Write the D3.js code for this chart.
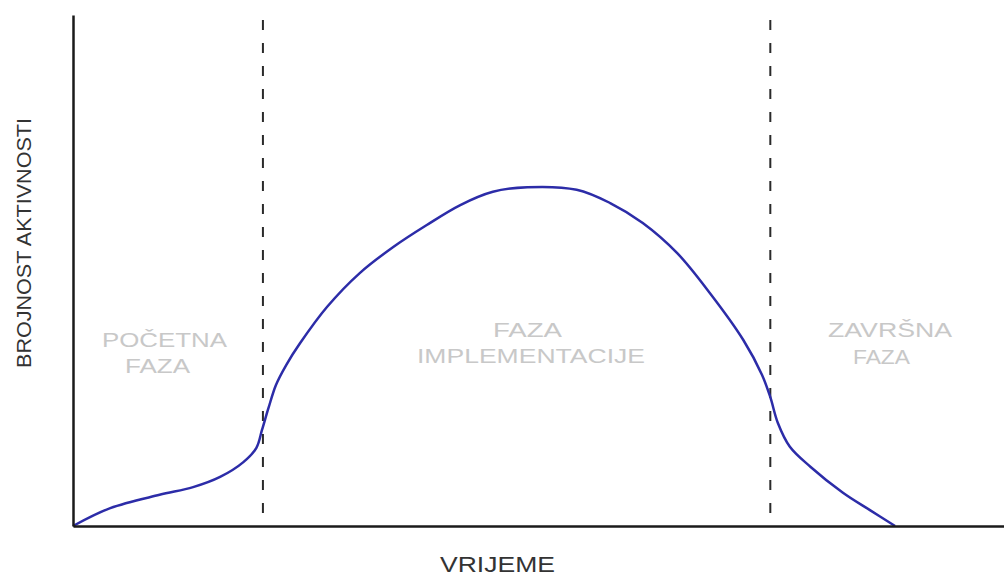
<!DOCTYPE html>
<html>
<head>
<meta charset="utf-8">
<script src="https://cdn.jsdelivr.net/npm/d3@7"></script>
<style>
  body { margin: 0; background: #fff; }
  svg { display: block; font-family: "Liberation Sans", Arial, sans-serif; }
</style>
</head>
<body>
<div class="chart"></div>
<script>
// vrijeme (0-100) i brojnost aktivnosti (0-100), očitano sa slike
const time = [0, 4, 9.3, 12.9, 15.8, 18.3, 19.7, 20.3, 21, 21.8, 22.9, 24.4, 27.3, 30.8, 34.4, 38, 41.6, 45.1, 48.8,
  54.1, 57.7, 61.2, 64.9, 68.4, 72, 74, 74.9, 75.7, 77, 79.2, 82.7, 85.6, 88.3];
const activity = [0, 3.5, 6.1, 7.6, 9.6, 12.5, 15.3, 18.8, 23.1, 27.6, 31.5, 35.8, 42.9, 49.5, 54.6, 58.9, 62.8, 65.4, 66.3,
  65.8, 63.2, 59.3, 53.4, 45.6, 36.4, 29.6, 25.2, 20.2, 15.5, 11.6, 6.5, 3.1, 0];
const phaseBounds = [20.4, 74.9];
const phaseNames = [["POČETNA", "FAZA"], ["FAZA", "IMPLEMENTACIJE"], ["ZAVRŠNA", "FAZA"]];
const xTitle = "VRIJEME";
const yTitle = "BROJNOST AKTIVNOSTI";

const W = 1004, H = 577;
const margin = {top: 15, right: 0, bottom: 51, left: 73};

const svg = d3.select('.chart').append('svg')
  .attr('width', W)
  .attr('height', H);

const x = d3.scaleLinear().domain([0, 100]).range([margin.left, W - margin.right]);
const y = d3.scaleLinear().domain([0, 100]).range([H - margin.bottom, margin.top]);

// granice faza
svg.selectAll('.bound')
  .data(phaseBounds)
  .enter().append('line')
    .attr('class', 'bound')
    .attr('x1', d => x(d)).attr('x2', d => x(d))
    .attr('y1', y(99)).attr('y2', y(0))
    .attr('stroke', '#2a2a2a')
    .attr('stroke-width', 2)
    .attr('stroke-dasharray', '10,13');

// nazivi faza
const labelPos = [
  {x: 102, w: 125, y: 347, x2: 125, w2: 65, y2: 373},
  {x: 493, w: 69, y: 337, x2: 417, w2: 228, y2: 363},
  {x: 828, w: 124, y: 337, x2: 853, w2: 57, y2: 364}
];
phaseNames.forEach((p, i) => {
  const lp = labelPos[i];
  [[p[0], lp.x, lp.w, lp.y], [p[1], lp.x2, lp.w2, lp.y2]].forEach(t => {
    svg.append('text')
      .attr('x', t[1]).attr('y', t[3])
      .attr('textLength', t[2])
      .attr('lengthAdjust', 'spacingAndGlyphs')
      .attr('font-size', 20)
      .attr('fill', '#c8c8c8')
      .text(t[0]);
  });
});

// krivulja
const line = d3.line()
  .x((d, i) => x(time[i]))
  .y(d => y(d))
  .curve(d3.curveCatmullRom.alpha(0.5));

svg.append('path')
  .datum(activity)
  .attr('fill', 'none')
  .attr('stroke', '#2c2ca8')
  .attr('stroke-width', 2.5)
  .attr('stroke-linejoin', 'round')
  .attr('d', line);

// osi
const gx = svg.append('g')
  .attr('transform', `translate(0,${y(0)})`)
  .call(d3.axisBottom(x).tickValues([]).tickSizeOuter(0));
const gy = svg.append('g')
  .attr('transform', `translate(${x(0)},0)`)
  .call(d3.axisLeft(y).tickValues([]).tickSizeOuter(0));
[gx, gy].forEach(g => g.select('.domain').attr('stroke', '#1a1a1a').attr('stroke-width', 2.5));

svg.append('text')
  .attr('x', 440).attr('y', 572)
  .attr('textLength', 115)
  .attr('lengthAdjust', 'spacingAndGlyphs')
  .attr('font-size', 22)
  .attr('fill', '#333')
  .text(xTitle);

svg.append('text')
  .attr('transform', 'translate(31,368) rotate(-90)')
  .attr('textLength', 250)
  .attr('lengthAdjust', 'spacingAndGlyphs')
  .attr('font-size', 21)
  .attr('fill', '#333')
  .text(yTitle);
</script>
</body>
</html>
